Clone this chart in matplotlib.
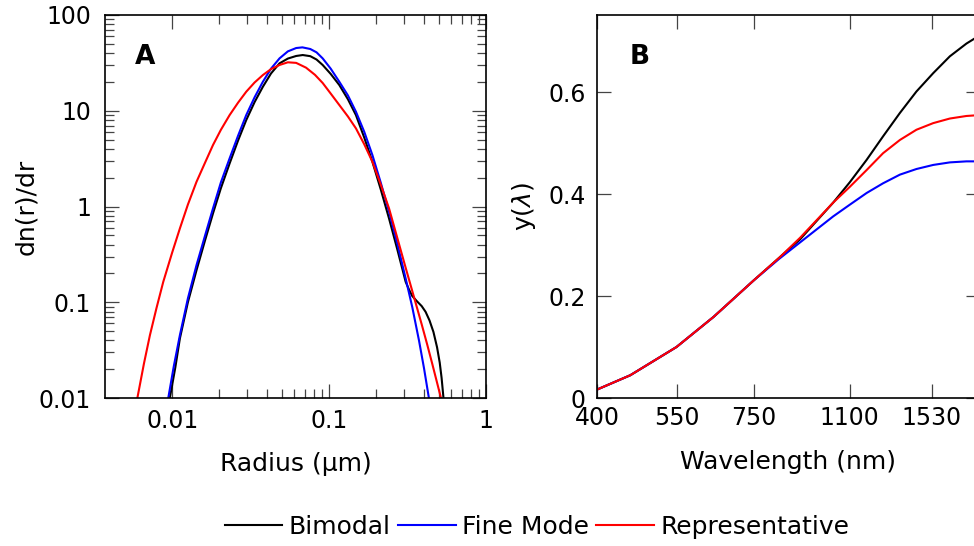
import matplotlib
matplotlib.use("Agg")
import matplotlib.pyplot as plt
import numpy as np
from matplotlib.ticker import FixedLocator, FixedFormatter, NullLocator

# Panel A: size distributions, read off the log-log axes as decade exponents
# (log10 of radius in um, log10 of dn/dr)
bimodal_r_exp = [-2.015, -1.98, -1.951, -1.90, -1.845, -1.79, -1.740, -1.69, -1.634,
                 -1.58, -1.528, -1.475, -1.422, -1.37, -1.316, -1.263, -1.21, -1.168,
                 -1.12, -1.08, -1.041, -0.99, -0.935, -0.88, -0.829, -0.776, -0.724,
                 -0.671, -0.618, -0.565, -0.512, -0.49, -0.47, -0.44, -0.41, -0.385,
                 -0.36, -0.335, -0.312, -0.295, -0.283, -0.271]
bimodal_n_exp = [-2.0, -1.68, -1.378, -1.00, -0.665, -0.35, -0.072, 0.19, 0.450,
                 0.69, 0.903, 1.09, 1.251, 1.39, 1.495, 1.545, 1.572, 1.582,
                 1.57, 1.535, 1.478, 1.385, 1.269, 1.12, 0.955, 0.72, 0.467,
                 0.18, -0.125, -0.45, -0.787, -0.87, -0.935, -0.99, -1.04, -1.10,
                 -1.19, -1.31, -1.47, -1.63, -1.79, -2.0]

fine_r_exp = [-2.025, -1.99, -1.951, -1.90, -1.845, -1.79, -1.740, -1.69, -1.634,
              -1.58, -1.528, -1.475, -1.422, -1.37, -1.316, -1.263, -1.21, -1.17,
              -1.12, -1.08, -1.041, -0.99, -0.935, -0.88, -0.829, -0.776, -0.724,
              -0.671, -0.618, -0.565, -0.512, -0.47, -0.427, -0.395, -0.364]
fine_n_exp = [-2.0, -1.67, -1.344, -0.96, -0.612, -0.30, -0.020, 0.25, 0.503,
              0.74, 0.955, 1.14, 1.303, 1.44, 1.547, 1.62, 1.655, 1.662,
              1.645, 1.61, 1.547, 1.44, 1.303, 1.16, 0.990, 0.78, 0.537,
              0.25, -0.055, -0.39, -0.752, -1.05, -1.40, -1.69, -2.0]

repr_r_exp = [-2.222, -2.18, -2.142, -2.10, -2.057, -2.00, -1.951, -1.90, -1.845,
              -1.79, -1.740, -1.69, -1.634, -1.58, -1.528, -1.475, -1.422, -1.37,
              -1.316, -1.263, -1.21, -1.147, -1.09, -1.041, -0.99, -0.935, -0.88,
              -0.829, -0.776, -0.724, -0.671, -0.618, -0.565, -0.512, -0.46, -0.41,
              -0.375, -0.343, -0.315, -0.287]
repr_n_exp = [-2.0, -1.64, -1.344, -1.06, -0.787, -0.48, -0.229, 0.02, 0.258,
              0.46, 0.642, 0.80, 0.955, 1.085, 1.199, 1.295, 1.373, 1.435,
              1.478, 1.506, 1.50, 1.45, 1.375, 1.29, 1.18, 1.060, 0.94,
              0.816, 0.65, 0.467, 0.23, -0.020, -0.33, -0.64, -0.94, -1.23,
              -1.44, -1.64, -1.82, -2.0]

# Panel B: y(lambda) vs wavelength (nm)
wavelength = [400, 457, 550, 638, 750, 830, 902, 1030, 1101, 1178, 1258, 1346,
              1438, 1538, 1644, 1757, 1810]
bimodal_y = [0.0165, 0.0446, 0.100, 0.159, 0.231, 0.275, 0.311, 0.383, 0.423,
             0.467, 0.513, 0.559, 0.601, 0.637, 0.670, 0.695, 0.704]
fine_y = [0.0165, 0.0446, 0.100, 0.159, 0.231, 0.273, 0.305, 0.356, 0.379,
          0.402, 0.421, 0.438, 0.449, 0.457, 0.462, 0.464, 0.464]
repr_y = [0.0165, 0.0446, 0.100, 0.159, 0.231, 0.275, 0.314, 0.383, 0.414,
          0.447, 0.480, 0.506, 0.526, 0.539, 0.548, 0.553, 0.554]

wl_ticks = [400, 550, 750, 1100, 1530]
y_ticks_b = [0, 0.2, 0.4, 0.6]

plt.rcParams["font.family"] = ["DejaVu Sans"]
plt.rcParams["font.size"] = 17

W, H = 974, 546
fig = plt.figure(figsize=(W / 100, H / 100), dpi=100)


def box(x0, x1, top, bottom):
    return [x0 / W, 1 - bottom / H, (x1 - x0) / W, (bottom - top) / H]


ax_a = fig.add_axes(box(105, 486, 15, 398))
ax_b = fig.add_axes(box(597, 980, 15, 398))

lw = 1.5
for r_exp, n_exp, col in ((bimodal_r_exp, bimodal_n_exp, "black"),
                          (fine_r_exp, fine_n_exp, "#0000ff"),
                          (repr_r_exp, repr_n_exp, "#ff0000")):
    ax_a.plot(10.0 ** np.array(r_exp), 10.0 ** np.array(n_exp), color=col, lw=lw)
ax_a.set_xscale("log")
ax_a.set_yscale("log")
ax_a.set_xlim(0.00373, 1.0)
ax_a.set_ylim(0.01, 100)
ax_a.xaxis.set_major_locator(FixedLocator([0.01, 0.1, 1]))
ax_a.xaxis.set_major_formatter(FixedFormatter(["0.01", "0.1", "1"]))
ax_a.xaxis.set_minor_locator(FixedLocator([k * d for d in (0.01, 0.1) for k in range(2, 10)]))
ax_a.yaxis.set_major_locator(FixedLocator([0.01, 0.1, 1, 10, 100]))
ax_a.yaxis.set_major_formatter(FixedFormatter(["0.01", "0.1", "1", "10", "100"]))
ax_a.yaxis.set_minor_locator(FixedLocator([k * d for d in (0.01, 0.1, 1, 10) for k in range(2, 10)]))
ax_a.set_xlabel("Radius (µm)", fontsize=18)
ax_a.set_ylabel("dn(r)/dr", fontsize=18)
ax_a.xaxis.set_label_coords(0.5, -0.14)
ax_a.yaxis.set_label_coords(-0.175, 0.5)
ax_a.text(0.105, 0.89, "A", transform=ax_a.transAxes, fontsize=19,
          fontweight="bold", ha="center", va="center")

ax_b.plot(wavelength, bimodal_y, color="black", lw=lw, label="Bimodal")
ax_b.plot(wavelength, fine_y, color="#0000ff", lw=lw, label="Fine Mode")
ax_b.plot(wavelength, repr_y, color="#ff0000", lw=lw, label="Representative")
ax_b.set_xscale("log")
ax_b.set_xlim(400, 1855)
ax_b.set_ylim(0, 0.751)
ax_b.xaxis.set_major_locator(FixedLocator(wl_ticks))
ax_b.xaxis.set_major_formatter(FixedFormatter([str(t) for t in wl_ticks]))
ax_b.xaxis.set_minor_locator(NullLocator())
ax_b.yaxis.set_major_locator(FixedLocator(y_ticks_b))
ax_b.yaxis.set_major_formatter(FixedFormatter(["0", "0.2", "0.4", "0.6"]))
ax_b.set_xlabel("Wavelength (nm)", fontsize=18)
ax_b.set_ylabel("y($\\lambda$)", fontsize=18)
ax_b.xaxis.set_label_coords(0.5, -0.135)
ax_b.yaxis.set_label_coords(-0.155, 0.5)
ax_b.text(0.112, 0.89, "B", transform=ax_b.transAxes, fontsize=19,
          fontweight="bold", ha="center", va="center")

for ax in (ax_a, ax_b):
    for s in ax.spines.values():
        s.set_linewidth(1.2)
    ax.tick_params(which="both", direction="in", top=True, right=True,
                   color="#444444", width=0.9)
    ax.tick_params(which="major", length=10)
    ax.tick_params(which="minor", length=6.5)
ax_a.tick_params(axis="y", which="major", pad=10)
ax_a.tick_params(axis="x", which="major", pad=8)
ax_b.tick_params(axis="y", which="major", pad=8)
ax_b.tick_params(axis="x", which="major", pad=6)

handles, labels = ax_b.get_legend_handles_labels()
fig.legend(handles, labels, loc="center", bbox_to_anchor=(537 / W, 1 - 527 / H),
           ncol=3, frameon=False, handlelength=2.3, handletextpad=0.25,
           columnspacing=0.3, fontsize=18)

fig.savefig("out.png", dpi=100, facecolor="white")
